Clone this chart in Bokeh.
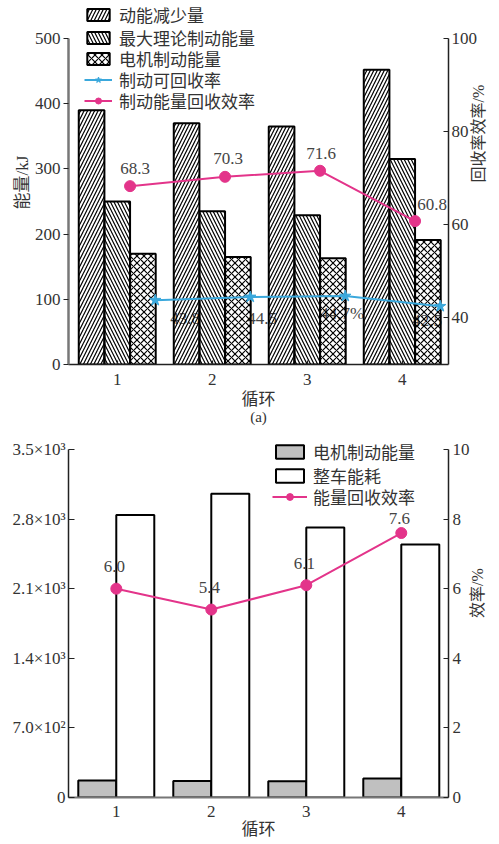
import math
from bokeh.plotting import figure
from bokeh.models import (Range1d, LinearAxis, FixedTicker, Legend, LegendItem,
                          ColumnDataSource)
from bokeh.layouts import column
from bokeh.embed import file_html
from bokeh.resources import INLINE
from bokeh.core.properties import value

# ---------------- data ----------------
cycles = [1, 2, 3, 4]
cycle_labels = ["1", "2", "3", "4"]

# (a)
ke_drop = [390, 370, 365, 452]          # 动能减少量
max_brake = [250, 235, 229, 315]        # 最大理论制动能量
motor_brake = [170, 165, 163, 191]      # 电机制动能量
recov_rate = [43.8, 44.5, 44.7, 42.5]   # 制动可回收率
recov_rate_labels = ["43.8", "44.5", "44.7%", "42.5"]
brake_eff = [68.3, 70.3, 71.6, 60.8]    # 制动能量回收效率
brake_eff_labels = ["68.3", "70.3", "71.6", "60.8"]
left_ticks_a = [0, 100, 200, 300, 400, 500]
right_ticks_a = [40, 60, 80, 100]

# (b)
motor_brake_b = [170, 165, 163, 191]        # 电机制动能量
vehicle_energy = [2840, 3055, 2715, 2545]   # 整车能耗
regen_eff = [6.0, 5.4, 6.1, 7.6]            # 能量回收效率
regen_eff_labels = ["6.0", "5.4", "6.1", "7.6"]
left_ticks_b = [0, 700, 1400, 2100, 2800, 3500]
left_tick_labels_b = ["0", "7.0×10²", "1.4×10³", "2.1×10³", "2.8×10³", "3.5×10³"]
right_ticks_b = [0, 2, 4, 6, 8, 10]

# ---------------- style ----------------
FONT = "Liberation Serif, Noto Sans CJK SC"
FS = "17px"
PINK = "#e3348a"
BLUE = "#3aa8dc"
AXIS = "#222222"
TXT = "#333333"


def style_axis(ax, tick_in=0, tick_out=0):
    ax.axis_line_color = AXIS
    ax.axis_line_width = 1.5
    ax.major_tick_line_color = AXIS
    ax.major_tick_line_width = 1.2
    ax.major_tick_in = tick_in
    ax.major_tick_out = tick_out
    ax.minor_tick_line_color = None
    ax.major_label_text_font = FONT
    ax.major_label_text_font_size = FS
    ax.major_label_text_color = TXT
    ax.axis_label_text_font = FONT
    ax.axis_label_text_font_size = FS
    ax.axis_label_text_font_style = "normal"
    ax.axis_label_text_color = TXT


def flip_right_label(ax):
    if "axis_label_orientation" in ax.properties():
        ax.axis_label_orientation = math.pi / 2


def add_legend_rows(p, items, x, ys, gw, gh, standoff):
    # one single-row legend per entry so the row pitch matches the original
    for item, y in zip(items, ys):
        leg = Legend(items=[item], location=(x, y))
        leg.border_line_color = None
        leg.background_fill_alpha = 0
        leg.padding = 0
        leg.margin = 0
        leg.spacing = 0
        leg.glyph_width = gw
        leg.glyph_height = gh
        leg.label_height = 16
        leg.label_standoff = standoff
        leg.label_text_font = FONT
        leg.label_text_font_size = FS
        leg.label_text_color = TXT
        leg.label_text_baseline = "middle"
        p.add_layout(leg)


# ================= (a) =================
# frame reaches the top edge so the legend fits; axis lines are bounded
FH_A, SPAN_A = 364, 326
TOP_A = left_ticks_a[-1] * FH_A / SPAN_A
TOP_A_R = 30 + 70 * FH_A / SPAN_A
p1 = figure(width=499, height=436, output_backend="svg", toolbar_location=None,
            x_range=Range1d(0.487, 4.487), y_range=Range1d(0, TOP_A),
            min_border_left=66, min_border_right=51, min_border_top=0,
            min_border_bottom=72)
p1.xgrid.visible = False
p1.ygrid.visible = False
p1.outline_line_color = None
p1.extra_y_ranges = {"eff": Range1d(30, TOP_A_R)}

xa = p1.xaxis[0]
xa.ticker = FixedTicker(ticks=cycles)
xa.major_label_overrides = {c: l for c, l in zip(cycles, cycle_labels)}
xa.axis_label = "循环"
style_axis(xa, tick_in=4, tick_out=0)
xa.major_label_standoff = 9
xa.axis_label_standoff = 2

ya = p1.yaxis[0]
ya.ticker = FixedTicker(ticks=left_ticks_a)
ya.bounds = (left_ticks_a[0], left_ticks_a[-1])
ya.axis_label = "能量/kJ"
style_axis(ya, tick_in=0, tick_out=5)
ya.axis_line_color = "#777777"
ya.axis_line_width = 2.5
ya.major_label_standoff = 3
ya.axis_label_standoff = 0

ra = LinearAxis(y_range_name="eff", ticker=FixedTicker(ticks=right_ticks_a),
                axis_label="回收率效率/%")
style_axis(ra, tick_in=5, tick_out=0)
ra.bounds = (30, right_ticks_a[-1])
ra.major_label_standoff = 3
ra.axis_label_standoff = -2
ra.axis_label_text_font_size = "16px"
flip_right_label(ra)
p1.add_layout(ra, "right")

cap = LinearAxis(ticker=FixedTicker(ticks=[]), axis_label="(a)")
style_axis(cap)
cap.axis_line_color = None
cap.major_label_text_font_size = "0px"
cap.axis_label_text_font_size = "15px"
cap.axis_label_standoff = -3
p1.add_layout(cap, "below")

W = 0.27
src_rate = ColumnDataSource(dict(
    x=[c + 0.40 for c in cycles], y=recov_rate, t=recov_rate_labels,
    dx=[30, 12, -3, -13], dy=[18, 22, 17, 14]))
# blue labels sit beneath the hatched bars
p1.text(x="x", y="y", text="t", source=src_rate, y_range_name="eff",
        x_offset="dx", y_offset="dy", text_align="center", text_baseline="middle",
        text_font=value(FONT), text_font_size=FS, text_color="#444444")

hatch_kw = dict(fill_color=None, line_color="black", line_width=2,
                hatch_color="black", hatch_weight=1.2, hatch_scale=7)
r_ke = p1.vbar(x=[c - W for c in cycles], top=ke_drop, width=W,
               hatch_pattern="right_diagonal_line", **hatch_kw)
r_mx = p1.vbar(x=cycles, top=max_brake, width=W,
               hatch_pattern="left_diagonal_line", **hatch_kw)
r_mo = p1.vbar(x=[c + W for c in cycles], top=motor_brake, width=W,
               hatch_pattern="diagonal_cross", **hatch_kw)

l_rate = p1.line(x="x", y="y", source=src_rate, y_range_name="eff",
                 line_color=BLUE, line_width=2)
s_rate = p1.scatter(x="x", y="y", source=src_rate, y_range_name="eff",
                    marker="star", size=12, fill_color=BLUE, line_color=BLUE)

src_eff = ColumnDataSource(dict(
    x=[c + 0.135 for c in cycles], y=brake_eff, t=brake_eff_labels,
    dx=[5, 3, 1, 17], dy=[-18, -18, -17, -17]))
l_eff = p1.line(x="x", y="y", source=src_eff, y_range_name="eff",
                line_color=PINK, line_width=2)
s_eff = p1.scatter(x="x", y="y", source=src_eff, y_range_name="eff",
                   marker="circle", size=11, fill_color=PINK, line_color=PINK)
p1.text(x="x", y="y", text="t", source=src_eff, y_range_name="eff",
        x_offset="dx", y_offset="dy", text_align="center", text_baseline="middle",
        text_font=value(FONT), text_font_size=FS, text_color="#444444")

add_legend_rows(p1, [
    LegendItem(label="动能减少量", renderers=[r_ke]),
    LegendItem(label="最大理论制动能量", renderers=[r_mx]),
    LegendItem(label="电机制动能量", renderers=[r_mo]),
    LegendItem(label="制动可回收率", renderers=[l_rate, s_rate]),
    LegendItem(label="制动能量回收效率", renderers=[l_eff, s_eff]),
], 16, [337, 314, 293, 272, 251], 28, 15, 7)

# ================= (b) =================
FH_B, SPAN_B = 359, 348
TOP_B = left_ticks_b[-1] * FH_B / SPAN_B
TOP_B_R = right_ticks_b[-1] * FH_B / SPAN_B
p2 = figure(width=499, height=408, output_backend="svg", toolbar_location=None,
            x_range=Range1d(0.497, 4.497), y_range=Range1d(0, TOP_B),
            min_border_left=68, min_border_right=49, min_border_top=2,
            min_border_bottom=47)
p2.xgrid.visible = False
p2.ygrid.visible = False
p2.outline_line_color = None
p2.extra_y_ranges = {"eff": Range1d(0, TOP_B_R)}

xb = p2.xaxis[0]
xb.ticker = FixedTicker(ticks=cycles)
xb.major_label_overrides = {c: l for c, l in zip(cycles, cycle_labels)}
xb.axis_label = "循环"
style_axis(xb)
xb.axis_line_color = "#777777"
xb.axis_line_width = 2
xb.major_label_standoff = 8
xb.axis_label_standoff = 0

yb = p2.yaxis[0]
yb.ticker = FixedTicker(ticks=left_ticks_b)
yb.bounds = (left_ticks_b[0], left_ticks_b[-1])
yb.major_label_overrides = {t: l for t, l in zip(left_ticks_b, left_tick_labels_b)}
style_axis(yb, tick_in=6, tick_out=0)
yb.major_label_standoff = 3

rb = LinearAxis(y_range_name="eff", ticker=FixedTicker(ticks=right_ticks_b),
                axis_label="效率/%")
style_axis(rb, tick_in=5, tick_out=0)
rb.bounds = (right_ticks_b[0], right_ticks_b[-1])
rb.major_label_standoff = 4
rb.axis_label_standoff = 5
rb.axis_label_text_font_size = "16px"
flip_right_label(rb)
p2.add_layout(rb, "right")

BW = 0.4
r_gray = p2.vbar(x=[c - BW / 2 for c in cycles], top=motor_brake_b, width=BW,
                 fill_color="#c0c0c0", line_color="black", line_width=2)
r_white = p2.vbar(x=[c + BW / 2 for c in cycles], top=vehicle_energy, width=BW,
                  fill_color="white", line_color="black", line_width=2)

src_b = ColumnDataSource(dict(x=cycles, y=regen_eff, t=regen_eff_labels,
                              dx=[-2, -2, -2, -2], dy=[-22, -22, -22, -15]))
l_b = p2.line(x="x", y="y", source=src_b, y_range_name="eff",
              line_color=PINK, line_width=2)
s_b = p2.scatter(x="x", y="y", source=src_b, y_range_name="eff",
                 marker="circle", size=11, fill_color=PINK, line_color=PINK)
p2.text(x="x", y="y", text="t", source=src_b, y_range_name="eff",
        x_offset="dx", y_offset="dy", text_align="center", text_baseline="middle",
        text_font=value(FONT), text_font_size=FS, text_color="#444444")

add_legend_rows(p2, [
    LegendItem(label="电机制动能量", renderers=[r_gray]),
    LegendItem(label="整车能耗", renderers=[r_white]),
    LegendItem(label="能量回收效率", renderers=[l_b, s_b]),
], 204, [333, 309, 288], 35, 17, 6)

layout = column(p1, p2, spacing=0)
open("out.html", "w").write(file_html(layout, INLINE))
